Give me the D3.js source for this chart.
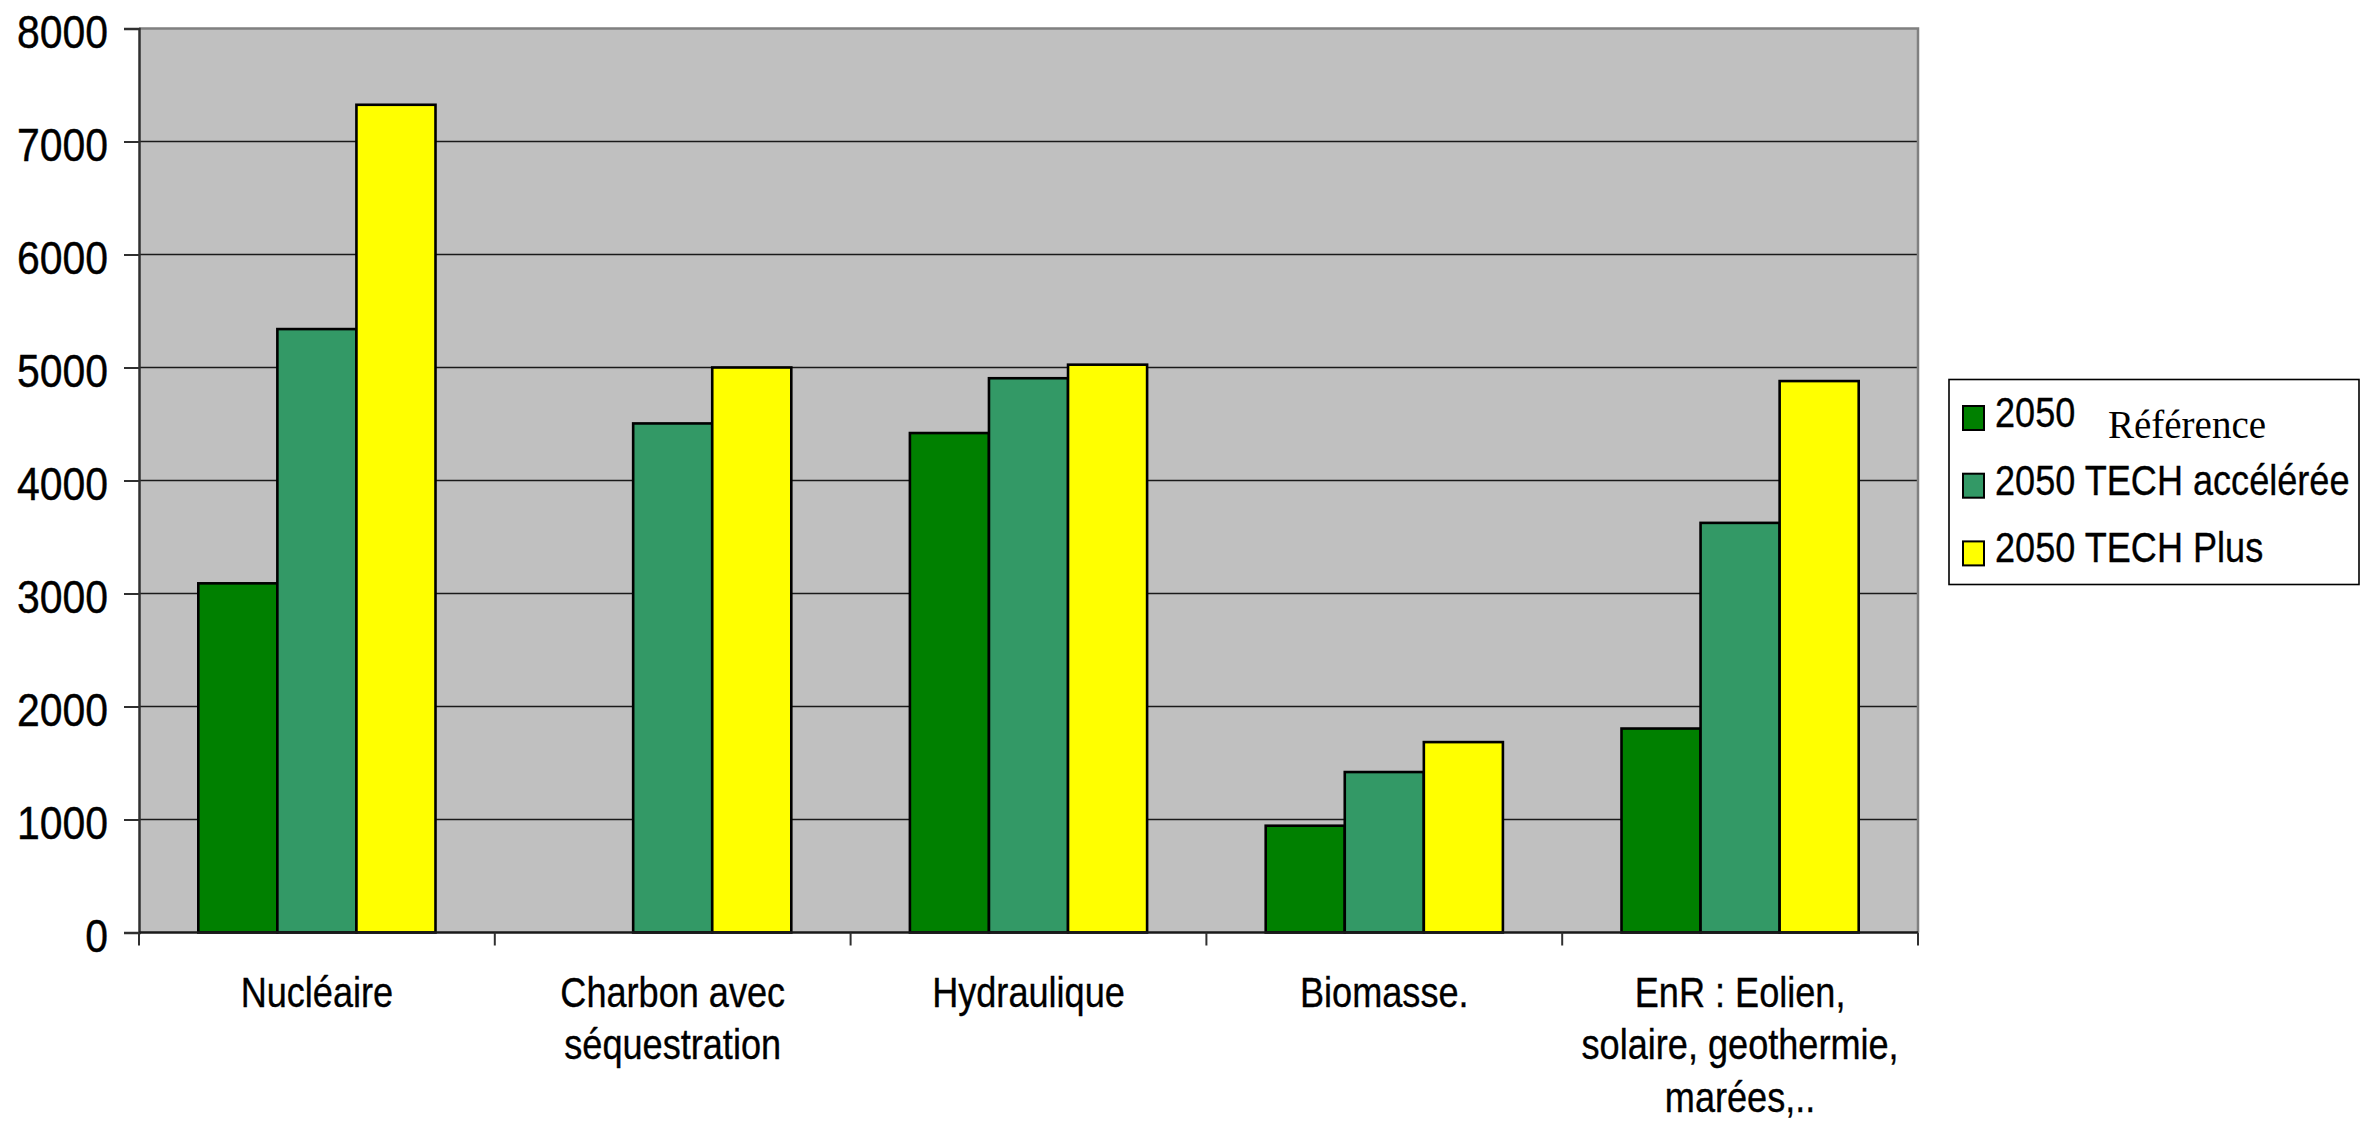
<!DOCTYPE html>
<html lang="fr">
<head>
<meta charset="utf-8">
<title>Production d'électricité 2050</title>
<script src="https://cdn.jsdelivr.net/npm/d3@7"></script>
<style>
  html, body { margin: 0; padding: 0; background: #fff; }
  svg { display: block; }
  text { font-family: "Liberation Sans", Arial, sans-serif; fill: #000; }
</style>
</head>
<body>
<svg id="chart" width="2364" height="1123"></svg>
<script>
// Catégories (retour à la ligne marqué par \n)
const categories = [
  "Nucléaire",
  "Charbon avec\nséquestration",
  "Hydraulique",
  "Biomasse.",
  "EnR : Eolien,\nsolaire, geothermie,\nmarées,.."
];

// Séries
const seriesNames = ["2050", "2050 TECH accélérée", "2050 TECH Plus"];
const seriesColors = ["#008000", "#339966", "#ffff00"];

const valuesReference = [3090, null, 4420, 945, 1805];
const valuesTechAcceleree = [5340, 4505, 4905, 1420, 3625];
const valuesTechPlus = [7325, 5000, 5025, 1685, 4880];

const yTicks = [0, 1000, 2000, 3000, 4000, 5000, 6000, 7000, 8000];
const referenceNote = "Référence";

const seriesValues = [valuesReference, valuesTechAcceleree, valuesTechPlus];

const svg = d3.select("#chart");

const plot = { left: 139, right: 1918, top: 28.5, bottom: 932.5 };

const x0 = d3.scaleBand()
  .domain(categories)
  .range([plot.left, plot.right])
  .paddingInner(0).paddingOuter(0);

const bw = x0.bandwidth();
const x1 = d3.scaleBand()
  .domain(seriesNames)
  .range([bw / 6, bw * 5 / 6])
  .padding(0);

const y = d3.scaleLinear()
  .domain([0, 8000])
  .range([plot.bottom, plot.top]);

// Fond de la zone de tracé
svg.append("rect")
  .attr("x", plot.left).attr("y", plot.top)
  .attr("width", plot.right - plot.left)
  .attr("height", plot.bottom - plot.top)
  .attr("fill", "#c0c0c0");

// Quadrillage horizontal
svg.append("g")
  .selectAll("line")
  .data(yTicks.filter(d => d > 0 && d < 8000))
  .join("line")
  .attr("x1", plot.left).attr("x2", plot.right)
  .attr("y1", d => y(d)).attr("y2", d => y(d))
  .attr("stroke", "#1a1a1a").attr("stroke-width", 1.4);

// Bordure haute et droite
svg.append("path")
  .attr("d", `M${plot.left},${plot.top}H${plot.right}V${plot.bottom}`)
  .attr("fill", "none").attr("stroke", "#808080").attr("stroke-width", 2.5);

// Barres
const rows = categories.map((c, i) => ({
  cat: c,
  vals: seriesNames.map((s, k) => ({ s, k, v: seriesValues[k][i] }))
}));

svg.append("g")
  .selectAll("g")
  .data(rows)
  .join("g")
  .attr("transform", d => `translate(${x0(d.cat)},0)`)
  .selectAll("rect")
  .data(d => d.vals.filter(e => e.v != null && e.v > 0))
  .join("rect")
  .attr("x", d => x1(d.s))
  .attr("y", d => y(d.v))
  .attr("width", x1.bandwidth())
  .attr("height", d => y(0) - y(d.v))
  .attr("fill", d => seriesColors[d.k])
  .attr("stroke", "#000")
  .attr("stroke-width", 2.6);

// Axe vertical
const yAxis = svg.append("g")
  .attr("transform", `translate(${plot.left},0)`)
  .call(d3.axisLeft(y).tickValues(yTicks).tickSize(15).tickPadding(0).tickFormat(d3.format("d")));
yAxis.select(".domain").attr("stroke", "#303030").attr("stroke-width", 2.5);
yAxis.selectAll(".tick line").attr("stroke", "#303030").attr("stroke-width", 2);
yAxis.selectAll(".tick text")
  .attr("x", 0)
  .attr("dy", "0.41em")
  .attr("transform", "translate(-31,0) scale(0.89,1)")
  .attr("text-anchor", "end")
  .style("font-family", "'Liberation Sans', Arial, sans-serif")
  .style("font-size", "46px")
  .style("stroke", "#000").style("stroke-width", 0.4);

// Axe horizontal : graduations aux limites des catégories
const xBounds = categories.map(c => x0(c)).concat([plot.right]);
const xAxisG = svg.append("g");
xAxisG.append("line")
  .attr("x1", plot.left).attr("x2", plot.right)
  .attr("y1", plot.bottom).attr("y2", plot.bottom)
  .attr("stroke", "#1a1a1a").attr("stroke-width", 2.5);
xAxisG.selectAll("line.tick")
  .data(xBounds)
  .join("line")
  .attr("class", "tick")
  .attr("x1", d => d).attr("x2", d => d)
  .attr("y1", plot.bottom).attr("y2", plot.bottom + 13)
  .attr("stroke", "#303030").attr("stroke-width", 2);

// Libellés des catégories
const catLabels = svg.append("g")
  .selectAll("text")
  .data(categories)
  .join("text")
  .attr("transform", d => `translate(${x0(d) + bw / 2},1006.5) scale(0.86,1)`)
  .attr("text-anchor", "middle")
  .style("font-size", "42px")
  .style("stroke", "#000").style("stroke-width", 0.35);
catLabels.selectAll("tspan")
  .data(d => d.split("\n"))
  .join("tspan")
  .attr("x", 0)
  .attr("y", (d, i) => i * 53)
  .text(d => d);

// Légende
const legend = svg.append("g");
legend.append("rect")
  .attr("x", 1949).attr("y", 379.5)
  .attr("width", 410).attr("height", 205)
  .attr("fill", "#fff").attr("stroke", "#000").attr("stroke-width", 1.6);

const legendRows = legend.selectAll("g.item")
  .data(seriesNames)
  .join("g")
  .attr("class", "item")
  .attr("transform", (d, i) => `translate(0,${427 + i * 67.7})`);
legendRows.append("rect")
  .attr("x", 1963).attr("y", -21)
  .attr("width", 21).attr("height", 24)
  .attr("fill", (d, i) => seriesColors[i])
  .attr("stroke", "#000").attr("stroke-width", 2);
legendRows.append("text")
  .attr("transform", "translate(1995,0) scale(0.84,1)")
  .style("font-size", "43px")
  .style("stroke", "#000").style("stroke-width", 0.35)
  .text(d => d);

legend.append("text")
  .attr("x", 2108).attr("y", 438)
  .style("font-family", "'Liberation Serif', 'Times New Roman', serif")
  .style("font-size", "39px")
  .text(referenceNote);
</script>
</body>
</html>
